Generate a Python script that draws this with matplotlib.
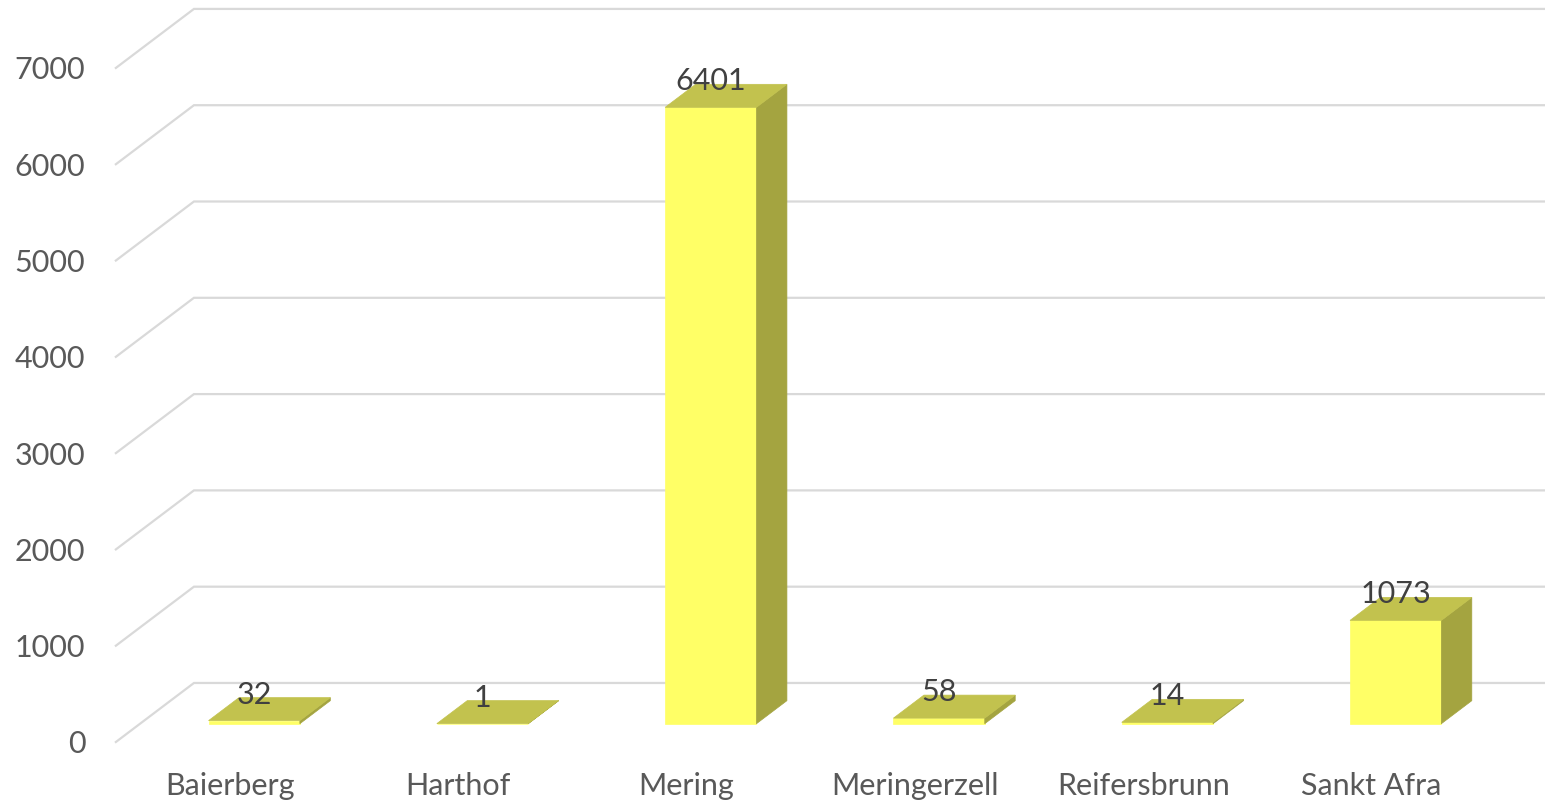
import matplotlib
matplotlib.use("Agg")
import matplotlib.pyplot as plt
from matplotlib.patches import Polygon

plt.rcParams["font.family"] = ["Lato", "DejaVu Sans"]

# data
categories = ["Baierberg", "Harthof", "Mering", "Meringerzell", "Reifersbrunn", "Sankt Afra"]
values = [32, 1, 6401, 58, 14, 1073]
yticks = [0, 1000, 2000, 3000, 4000, 5000, 6000, 7000]

# oblique "3D" projection: depth d in [0, 1] shifts points by d*(DX, DY)
DX = 0.342      # category units
DY = 613.0      # value units
BAR_W = 0.40
D0, D1 = 0.31, 0.70

FRONT = "#FFFF66"
TOP = "#C2C24E"
SIDE = "#A4A440"
GRID = "#D9D9D9"
TXT = "#595959"
FS = 22


def proj(x, v, d):
    return (x + d * DX, v + d * DY)


fig = plt.figure(figsize=(15.45, 8.03), dpi=100)
ax = fig.add_axes([0, 0, 1, 1])
ax.set_xlim(-1.0075, 5.76)
ax.set_ylim(-623, 7716)
ax.axis("off")

x_left = -0.5
x_right = len(categories)

# gridlines: diagonal on the left side wall + horizontal on the back wall
for t in yticks:
    a = proj(x_left, t, 0)
    b = proj(x_left, t, 1)
    c = proj(x_right, t, 1)
    ax.plot([a[0], b[0], c[0]], [a[1], b[1], c[1]], color=GRID, lw=1.6,
            solid_joinstyle="miter", zorder=1)
    ax.annotate(str(t), xy=a, xytext=(-22, -1), textcoords="offset points",
                ha="right", va="center", fontsize=FS, color=TXT)

for i, (cat, v) in enumerate(zip(categories, values)):
    x0, x1 = i - BAR_W / 2, i + BAR_W / 2
    front = [proj(x0, 0, D0), proj(x1, 0, D0), proj(x1, v, D0), proj(x0, v, D0)]
    side = [proj(x1, 0, D0), proj(x1, 0, D1), proj(x1, v, D1), proj(x1, v, D0)]
    top = [proj(x0, v, D0), proj(x1, v, D0), proj(x1, v, D1), proj(x0, v, D1)]
    for pts, col in ((front, FRONT), (side, SIDE), (top, TOP)):
        ax.add_patch(Polygon(pts, closed=True, facecolor=col, edgecolor=col,
                             lw=0.5, zorder=3))
    fx, fy = proj(i, v, D0)
    ax.annotate(str(v), xy=(fx, fy), xytext=(0, 13), textcoords="offset points",
                ha="center", va="baseline", fontsize=FS, color="#404040", zorder=5)
    ax.annotate(cat, xy=(i, 0), xytext=(0, -31), textcoords="offset points",
                ha="center", va="center", fontsize=FS, color=TXT)

fig.savefig("out.png", dpi=100)
